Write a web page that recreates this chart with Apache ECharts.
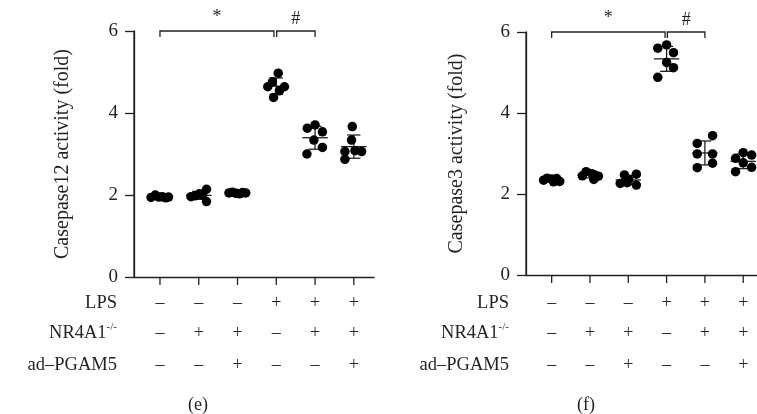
<!DOCTYPE html>
<html><head><meta charset="utf-8">
<script src="https://cdn.jsdelivr.net/npm/echarts@6/dist/echarts.min.js"></script>
<style>html,body{margin:0;padding:0;background:#fff}#c{width:757px;height:414px}</style>
</head><body><div id="c"></div>
<script>
const FONT = 'Liberation Serif';
const INK = '#231f20';

// ---------- data ----------
const lpsSigns   = ['–','–','–','+','+','+'];
const nr4a1Signs = ['–','+','+','–','+','+'];
const pgam5Signs = ['–','–','+','–','–','+'];
const yTicksMax = 6;
const yTickStep = 2;

// Panel (e): Casepase12 activity (fold) — 6 points per group
const casp12Values = [
  [1.94, 2.00, 1.95, 1.96, 1.93, 1.95],
  [1.96, 1.98, 2.03, 2.14, 1.84, 2.00],
  [2.05, 2.07, 2.04, 2.03, 2.06, 2.05],
  [4.97, 4.76, 4.64, 4.64, 4.54, 4.38],
  [3.63, 3.71, 3.54, 3.34, 3.16, 3.00],
  [3.67, 3.34, 3.06, 3.08, 3.06, 2.87]
];
const casp12Jitter = [
  [-0.23, -0.12, -0.03, 0.06, 0.15, 0.22],
  [-0.20, -0.10, 0.02, 0.20, 0.20, 0.10],
  [-0.22, -0.13, -0.04, 0.05, 0.13, 0.21],
  [0.05, -0.10, -0.22, 0.21, 0.08, -0.07],
  [-0.20, 0.00, 0.19, -0.03, 0.19, -0.21],
  [-0.04, -0.06, -0.23, 0.03, 0.20, -0.23]
];

// Panel (f): Casepase3 activity (fold)
const casp3Values = [
  [2.34, 2.39, 2.37, 2.30, 2.38, 2.31],
  [2.45, 2.55, 2.50, 2.44, 2.47, 2.36],
  [2.47, 2.49, 2.36, 2.26, 2.22, 2.28],
  [5.60, 5.68, 5.49, 5.25, 5.12, 4.88],
  [3.25, 3.44, 2.99, 2.99, 2.65, 2.76],
  [3.02, 2.96, 2.88, 2.77, 2.66, 2.55]
];
const casp3Jitter = [
  [-0.21, -0.12, 0.00, 0.05, 0.13, 0.21],
  [-0.20, -0.10, 0.05, 0.22, 0.12, 0.10],
  [-0.10, 0.21, 0.01, -0.21, 0.21, -0.03],
  [-0.23, 0.00, 0.18, 0.00, 0.18, -0.23],
  [-0.20, 0.20, -0.20, 0.20, -0.20, 0.20],
  [0.00, 0.22, -0.20, 0.00, 0.22, -0.20]
];

// significance brackets: [fromGroup, toGroup, label]
const casp12Brackets = [[0, 2.94, '*'], [3.01, 4, '#']];
const casp3Brackets  = [[0, 2.96, '*'], [3.02, 4, '#']];

const rowLabels = ['LPS', 'NR4A1', 'ad–PGAM5'];

// ---------- helpers ----------
const G0 = 0.67;            // position of the first group on the x scale (axis starts at 0)
const gx = i => G0 + i;
function points(values, jitter) {
  const out = [];
  values.forEach((g, gi) => g.forEach((v, i) => out.push([gx(gi) + jitter[gi][i], v])));
  return out;
}
function stats(values) {
  return values.map((g, gi) => {
    const m = g.reduce((a, b) => a + b, 0) / g.length;
    const sd = Math.sqrt(g.reduce((a, b) => a + (b - m) * (b - m), 0) / (g.length - 1));
    return [gx(gi), m, sd];
  });
}
const lineStyle = {stroke: INK, lineWidth: 1.3};
function txtStyle(text, x, y, align, vAlign, size) {
  return {text, x, y, align, verticalAlign: vAlign, fill: INK, fontFamily: FONT, fontSize: size};
}

function errRender(params, api) {
  const g = api.value(0), m = api.value(1), sd = api.value(2);
  const c = api.coord([g, m]);
  const top = api.coord([g, m + sd]);
  const bot = api.coord([g, m - sd]);
  const unit = api.size([1, 0])[0];
  const hw = unit * 0.33, cw = unit * 0.17;
  return {type: 'group', children: [
    {type: 'line', shape: {x1: c[0], y1: top[1], x2: c[0], y2: bot[1]}, style: lineStyle},
    {type: 'line', shape: {x1: c[0] - cw, y1: top[1], x2: c[0] + cw, y2: top[1]}, style: lineStyle},
    {type: 'line', shape: {x1: c[0] - cw, y1: bot[1], x2: c[0] + cw, y2: bot[1]}, style: lineStyle},
    {type: 'line', shape: {x1: c[0] - hw, y1: c[1], x2: c[0] + hw, y2: c[1]}, style: lineStyle}
  ]};
}
function bracketRender(labels) {
  return function (params, api) {
    const a = api.coord([api.value(0), yTicksMax]);
    const b = api.coord([api.value(1), yTicksMax]);
    const label = labels[params.dataIndex];
    return {type: 'group', children: [
      {type: 'polyline', shape: {points: [[a[0], a[1] + 6], [a[0], a[1]], [b[0], b[1]], [b[0], b[1] + 6]]}, style: {stroke: INK, lineWidth: 1.3, fill: null}},
      {type: 'text', style: txtStyle(label, (a[0] + b[0]) / 2, a[1] - (label === '*' ? 5 : 3), 'center', 'bottom', 18)}
    ]};
  };
}
// vertical axis line along x = 0, from the y-axis min to max
function axisLineRender(params, api) {
  const a = api.coord([0, 0]);
  const b = api.coord([0, yTicksMax]);
  return {type: 'line', shape: {x1: a[0], y1: a[1], x2: b[0], y2: b[1]}, style: lineStyle};
}
const rowY = [303, 333, 365];
function signRender(params, api) {
  const g = params.dataIndex;
  const p = api.coord([api.value(0), 0]);
  const signs = [lpsSigns[g], nr4a1Signs[g], pgam5Signs[g]];
  const children = [{type: 'line', shape: {x1: p[0], y1: p[1], x2: p[0], y2: p[1] + 8}, style: lineStyle}];
  signs.forEach((s, k) => children.push({type: 'text', style: txtStyle(s, p[0], rowY[k], 'center', 'middle', 18)}));
  return {type: 'group', children};
}
function rowLabelRender(params, api) {
  const k = params.dataIndex;
  const p = api.coord([0, 0]);
  const txt = k === 1 ? '{a|NR4A1}{s|-/-}' : '{a|' + rowLabels[k] + '}';
  return {type: 'text', style: {text: txt, x: p[0] - 17, y: rowY[k], align: 'right', verticalAlign: 'middle', fill: INK,
    rich: {a: {fontFamily: FONT, fontSize: 18.5, fill: INK, lineHeight: 22}, s: {fontFamily: FONT, fontSize: 11, fill: INK, verticalAlign: 'top', lineHeight: 22}}}};
}

function panel(gi, values, jitter, brackets) {
  return [
    {type: 'custom', xAxisIndex: gi, yAxisIndex: gi, data: [[0]], renderItem: axisLineRender, clip: false, z: 1, silent: true},
    {type: 'custom', xAxisIndex: gi, yAxisIndex: gi, data: stats(values), renderItem: errRender, clip: false, z: 2, silent: true},
    {type: 'scatter', xAxisIndex: gi, yAxisIndex: gi, data: points(values, jitter), symbol: 'circle', symbolSize: 9.5, itemStyle: {color: '#000', opacity: 1}, z: 3, silent: true},
    {type: 'custom', xAxisIndex: gi, yAxisIndex: gi, data: brackets.map(b => [gx(b[0]), gx(b[1])]), renderItem: bracketRender(brackets.map(b => b[2])), clip: false, z: 2, silent: true},
    {type: 'custom', xAxisIndex: gi, yAxisIndex: gi, data: lpsSigns.map((s, i) => [gx(i)]), renderItem: signRender, clip: false, silent: true},
    {type: 'custom', xAxisIndex: gi, yAxisIndex: gi, data: rowLabels.map((s, i) => [i]), renderItem: rowLabelRender, clip: false, silent: true}
  ];
}

function yAxis(gi, name, gap) {
  return {gridIndex: gi, type: 'value', min: 0, max: yTicksMax, interval: yTickStep, position: 'left',
    axisLine: {show: true, lineStyle: {color: INK, width: 1.3}},
    axisTick: {show: true, length: 9, lineStyle: {color: INK, width: 1.3}},
    axisLabel: {fontFamily: FONT, fontSize: 19, color: INK, margin: 16},
    splitLine: {show: false},
    name: name, nameLocation: 'middle', nameRotate: 90, nameGap: gap,
    nameTextStyle: {fontFamily: FONT, fontSize: 20, color: INK}};
}
function xAxis(gi, xmax) {
  return {gridIndex: gi, type: 'value', min: 0, max: xmax, position: 'bottom',
    axisLine: {show: true, lineStyle: {color: INK, width: 1.3}},
    axisTick: {show: false}, axisLabel: {show: false}, splitLine: {show: false}};
}

const chart = echarts.init(document.getElementById('c'));
chart.setOption({
  animation: false,
  backgroundColor: '#fff',
  textStyle: {fontFamily: FONT},
  grid: [
    {left: 134, top: 31, width: 240, height: 246},
    {left: 526, top: 32, width: 231, height: 243}
  ],
  xAxis: [xAxis(0, 6.19), xAxis(1, 6.03)],
  yAxis: [yAxis(0, 'Casepase12 activity (fold)', 61), yAxis(1, 'Casepase3 activity (fold)', 59)],
  series: [
    ...panel(0, casp12Values, casp12Jitter, casp12Brackets),
    ...panel(1, casp3Values, casp3Jitter, casp3Brackets)
  ],
  graphic: [
    {type: 'text', x: 198, y: 405, style: txtStyle('(e)', 0, 0, 'center', 'middle', 18)},
    {type: 'text', x: 586, y: 405, style: txtStyle('(f)', 0, 0, 'center', 'middle', 18)}
  ]
});
</script></body></html>
